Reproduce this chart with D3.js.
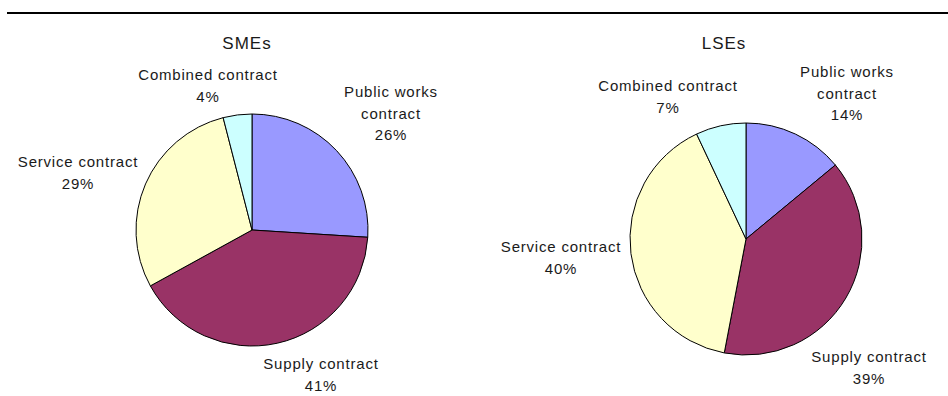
<!DOCTYPE html>
<html>
<head>
<meta charset="utf-8">
<script src="https://cdn.jsdelivr.net/npm/d3@7"></script>
<style>
  html, body { margin: 0; padding: 0; background: #fff; }
  svg { display: block; }
  text { font-family: "Liberation Sans", Arial, sans-serif; fill: #1a1a1a; }
</style>
</head>
<body>
<svg id="chart" width="948" height="396"></svg>
<script>
// Contract types, drawn clockwise from 12 o'clock
const categories = ["Public works contract", "Supply contract", "Service contract", "Combined contract"];
const smeShares = [26, 41, 29, 4];
const lseShares = [14, 39, 40, 7];
const panelTitles = ["SMEs", "LSEs"];

const colors = d3.scaleOrdinal()
  .domain(categories)
  .range(["#9999ff", "#993366", "#ffffcc", "#ccffff"]);

// Panel layout: pie centre and label block placement relative to it
// (x = block centre, y = first baseline).
const panels = [
  { title: panelTitles[0], values: smeShares, cx: 252, cy: 230, titleX: 247,
    labels: [[139, -133], [69, 139], [-174, -63], [-44, -150]] },
  { title: panelTitles[1], values: lseShares, cx: 746, cy: 239, titleX: 724,
    labels: [[101, -162], [123, 123], [-185, 13], [-78, -148]] }
];

const radius = 116;
const lineHeight = 21.5;
const svg = d3.select("#chart");

// Rule across the top of the figure
svg.append("line")
  .attr("x1", 7).attr("x2", 948)
  .attr("y1", 13).attr("y2", 13)
  .attr("stroke", "#000").attr("stroke-width", 2);

const pie = d3.pie().sort(null).value(d => d.value);
const arc = d3.arc().innerRadius(0).outerRadius(radius);

// Break the long category name onto two lines
function labelLines(name) {
  return name === "Public works contract" ? ["Public works", "contract"] : [name];
}

panels.forEach(p => {
  const data = categories.map((c, i) => ({ name: c, value: p.values[i] }));

  svg.append("text")
    .attr("x", p.titleX).attr("y", 49)
    .attr("text-anchor", "middle")
    .attr("font-size", 17)
    .attr("letter-spacing", 1)
    .text(p.title);

  const g = svg.append("g").attr("transform", `translate(${p.cx},${p.cy})`);

  g.selectAll("path")
    .data(pie(data))
    .join("path")
    .attr("d", arc)
    .attr("fill", d => colors(d.data.name))
    .attr("stroke", "#000")
    .attr("stroke-width", 1)
    .attr("stroke-linejoin", "round");

  const labels = g.selectAll("text.slice-label")
    .data(pie(data))
    .join("text")
    .attr("class", "slice-label")
    .attr("text-anchor", "middle")
    .attr("font-size", 15)
    .attr("letter-spacing", 0.8);

  labels.each(function (d, i) {
    const [lx, ly] = p.labels[i];
    const lines = labelLines(d.data.name).concat([d.data.value + "%"]);
    d3.select(this).selectAll("tspan")
      .data(lines)
      .join("tspan")
      .attr("x", lx)
      .attr("y", (t, k) => ly + k * lineHeight)
      .text(t => t);
  });
});
</script>
</body>
</html>
